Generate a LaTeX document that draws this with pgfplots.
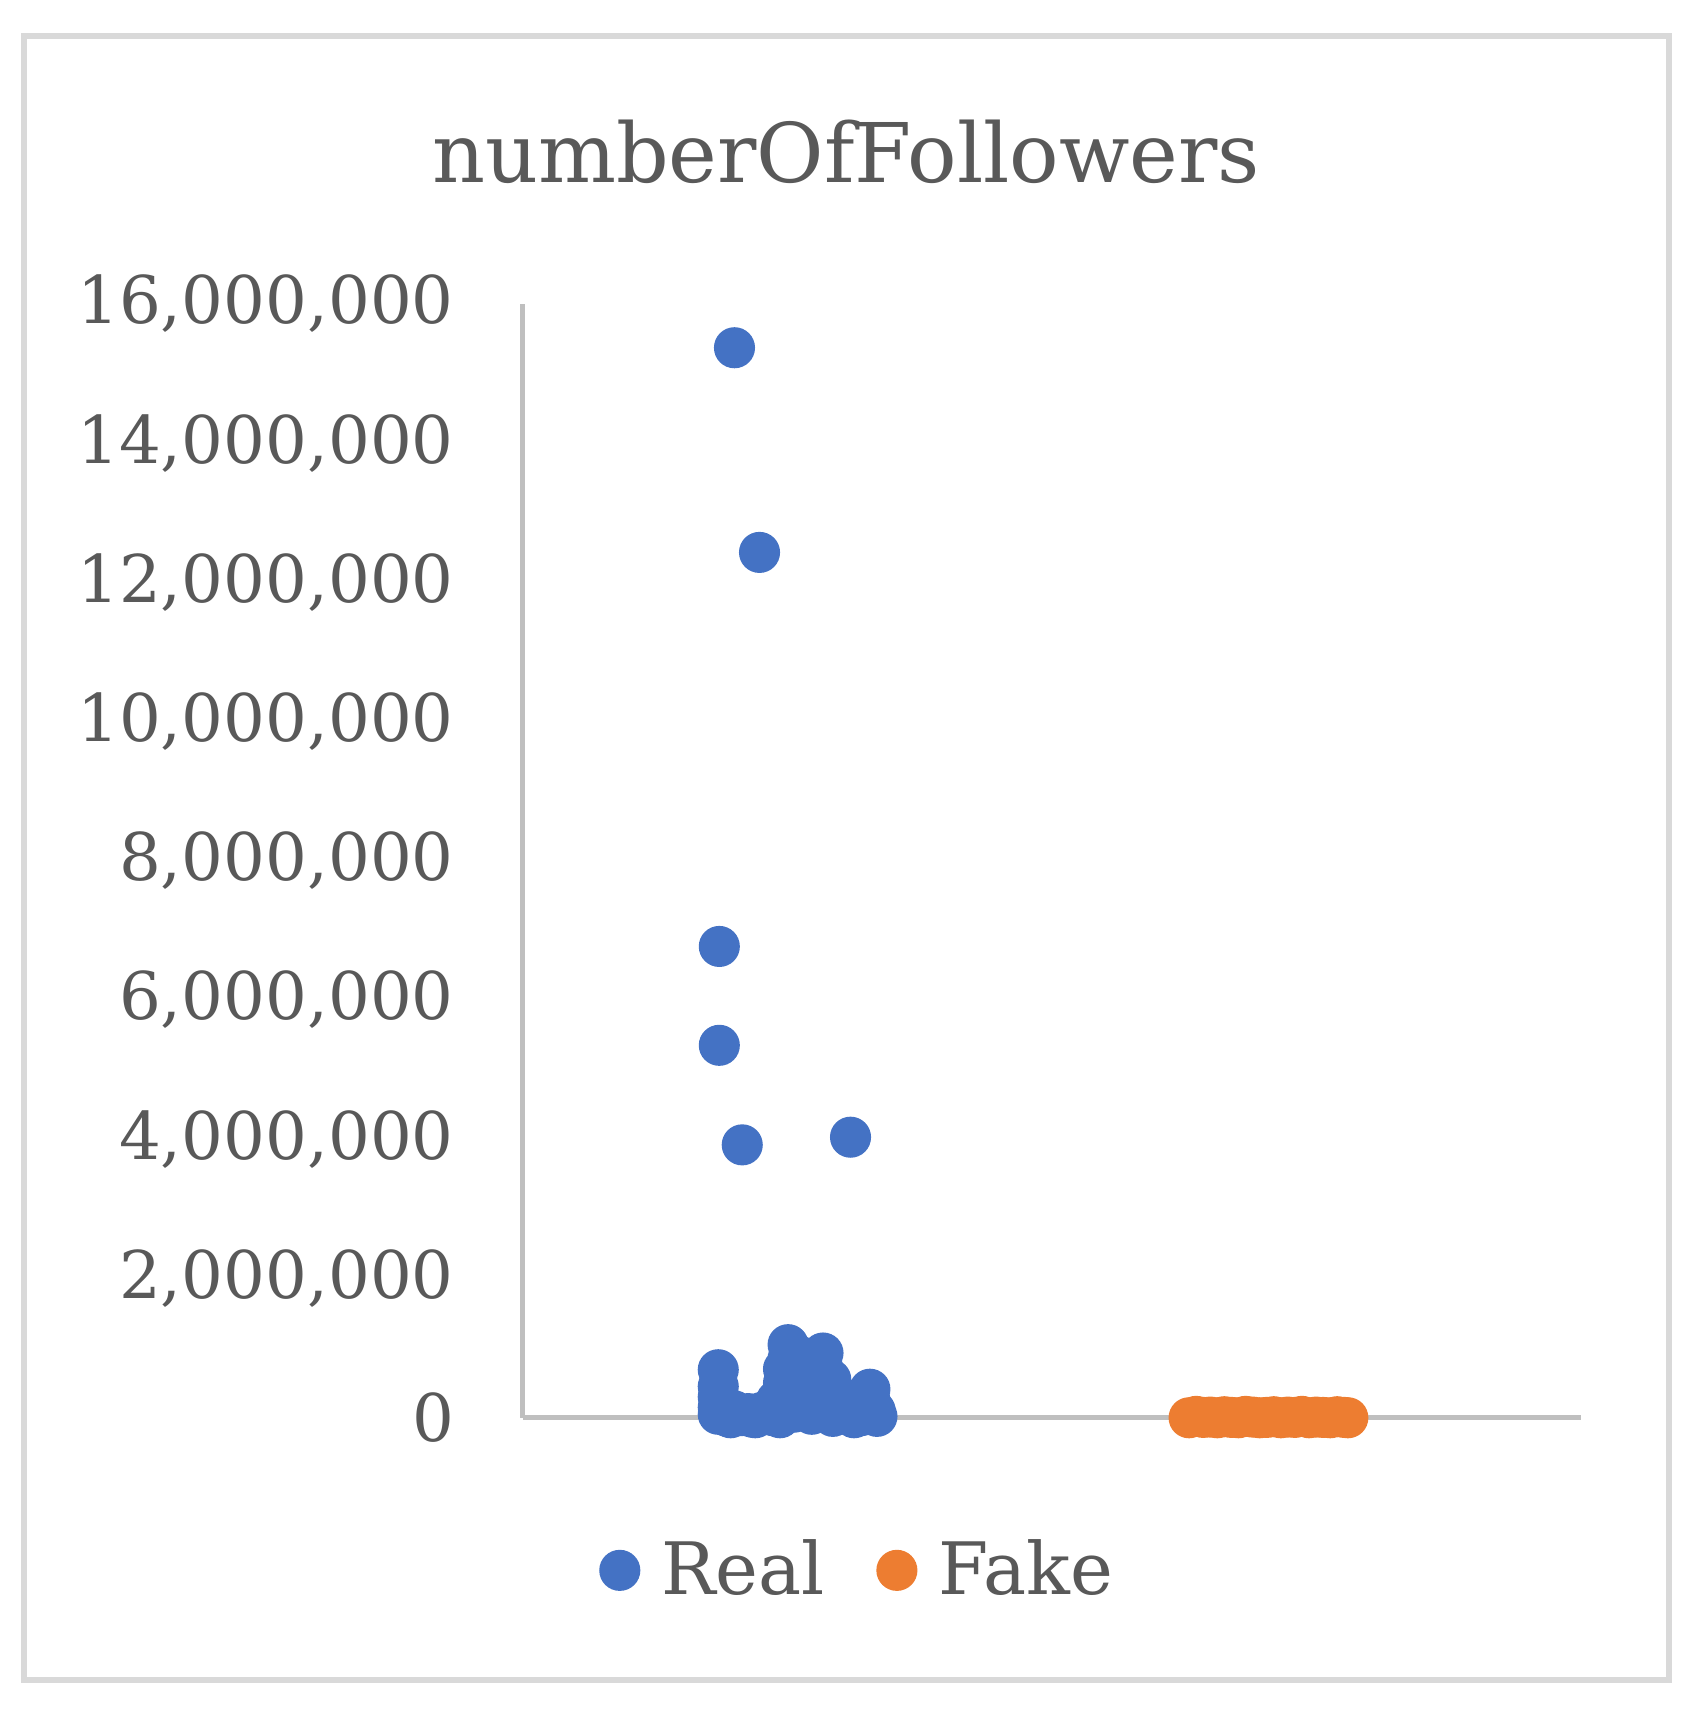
\documentclass[border=0pt]{standalone}
\usepackage{fontspec}
\setmainfont{DejaVu Serif}
\usepackage{pgfplots}
\pgfplotsset{compat=1.18}

\definecolor{realblue}{HTML}{4472C4}
\definecolor{fakeorange}{HTML}{ED7D31}
\definecolor{txtgray}{HTML}{595959}
\definecolor{axgray}{HTML}{BFBFBF}
\definecolor{framegray}{HTML}{D9D9D9}

\begin{document}
\begin{tikzpicture}
% page edges and chart frame (axis box lower left is the origin)
\path (-119.5bp,-67.75bp) rectangle (269.25bp,324.25bp);
\draw[framegray, line width=1.5bp] (-114bp,-60bp) rectangle (262.25bp,316bp);
\node[txtgray, font=\fontsize{18.9}{22}\selectfont] at (74bp,289.5bp) {numberOfFollowers};
\begin{axis}[
    scale only axis,
    width=242bp, height=254.75bp,
    xmin=0, xmax=3,
    ymin=0, ymax=16000000,
    clip=false,
    axis lines=left,
    axis line style={-, draw=axgray, line width=1.2bp},
    xtick=\empty,
    ytick={0,2000000,4000000,6000000,8000000,10000000,12000000,14000000,16000000},
    major tick length=0pt,
    scaled y ticks=false,
    yticklabel style={
        /pgf/number format/.cd, fixed, precision=0, 1000 sep={,}, assume math mode=true,
        /tikz/.cd, anchor=east, inner sep=0pt, xshift=-15.5bp,
        text=txtgray, font=\fontsize{15.1}{18}\selectfont},
    legend style={draw=none, at={(0.32,-0.137)}, anchor=center,
        legend columns=2, text=txtgray, font=\fontsize{16.6}{19}\selectfont,
        /tikz/every odd column/.append style={column sep=3bp},
        /tikz/every even column/.append style={column sep=10bp}},
    legend cell align=left,
]
\addplot[only marks, mark=*, mark size=4.5bp, color=realblue, mark options={draw=none, fill=realblue}] coordinates {
(0.601,15370000) (0.672,12430000) (0.558,6770000) (0.558,5350000)
(0.623,3920000) (0.930,4030000)
(0.555,690000) (0.555,450000) (0.555,300000) (0.555,150000) (0.555,50000)
(0.580,20000) (0.600,100000) (0.620,30000) (0.640,60000) (0.660,0) (0.680,80000)
(0.700,120000) (0.720,250000) (0.740,500000) (0.740,700000)
(0.753,1050000) (0.753,850000) (0.753,300000) (0.780,900000) (0.780,600000)
(0.800,750000) (0.830,400000) (0.852,930000) (0.852,700000) (0.874,550000)
(0.900,300000) (0.900,150000) (0.950,200000) (0.985,410000) (0.985,250000)
(1.000,100000) (1.005,20000) (0.820,50000) (0.860,100000) (0.880,20000)
(0.920,60000) (0.960,30000) (0.790,200000) (0.770,80000) (0.710,30000)
(0.590,0) (0.650,10000) (0.730,0) (0.940,0)
};
\addlegendentry{Real}
\addplot[only marks, mark=*, mark size=4.5bp, color=fakeorange, mark options={draw=none, fill=fakeorange}] coordinates {
(1.890,0) (1.910,20000) (1.930,5000) (1.950,10000) (1.970,0) (1.990,15000)
(2.010,5000) (2.030,0) (2.050,20000) (2.070,10000) (2.090,0) (2.110,5000)
(2.130,15000) (2.150,0) (2.170,10000) (2.190,5000) (2.210,20000) (2.230,0)
(2.250,10000) (2.270,5000) (2.290,0) (2.310,15000) (2.330,5000) (2.340,0)
};
\addlegendentry{Fake}
\end{axis}
\end{tikzpicture}
\end{document}
